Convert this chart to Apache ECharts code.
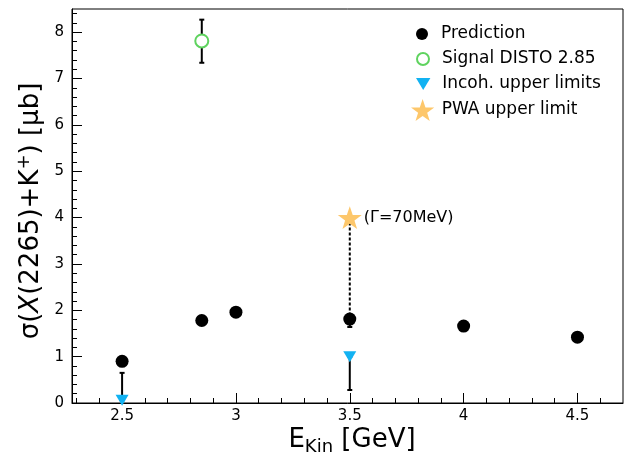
<!DOCTYPE html>
<html><head><meta charset="utf-8">
<script src="https://cdn.jsdelivr.net/npm/echarts@6/dist/echarts.min.js"></script>
<style>html,body{margin:0;padding:0;background:#fff}#c{width:625px;height:452px}</style>
</head><body><div id="c"></div>
<script>
// ---- data ----
const predX = [2.5, 2.85, 3.0, 3.5, 4.0, 4.5];
const predY = [0.9, 1.78, 1.96, 1.81, 1.66, 1.42];
const distoX = [2.85];
const distoY = [7.81];
const incohX = [2.5, 3.5];
const incohY = [0.06, 1.0];
const pwaX = [3.5];
const pwaY = [4.0];
const pwaLabel = '(Γ=70MeV)';
const pwaLinkY = [4.0, 1.62];
const errX = [2.5, 2.85, 3.5, 3.5];
const errLow = [0.06, 7.34, 0.28, 1.64];
const errHigh = [0.65, 8.27, 1.0, 1.81];
const xMajorTicks = [2.5, 3, 3.5, 4, 4.5];
const xMinorTicks = [2.3, 2.4, 2.6, 2.7, 2.8, 2.9, 3.1, 3.2, 3.3, 3.4, 3.6, 3.7, 3.8, 3.9, 4.1, 4.2, 4.3, 4.4, 4.6];
const yMajorTicks = [0, 1, 2, 3, 4, 5, 6, 7, 8];
const yMinorTicks = [0.2, 0.4, 0.6, 0.8, 1.2, 1.4, 1.6, 1.8, 2.2, 2.4, 2.6, 2.8, 3.2, 3.4, 3.6, 3.8,
  4.2, 4.4, 4.6, 4.8, 5.2, 5.4, 5.6, 5.8, 6.2, 6.4, 6.6, 6.8, 7.2, 7.4, 7.6, 7.8, 8.2, 8.4];
const legendNames = ['Prediction', 'Signal DISTO 2.85', 'Incoh. upper limits', 'PWA upper limit'];

const FONT = 'DejaVu Sans';
const STAR = 'path://M50,0 L61.8,35.1 L98.1,35.1 L68.8,56.7 L79.4,91 L50,70 L20.6,91 L31.2,56.7 L1.9,35.1 L38.2,35.1 Z';
const DOWN_TRI = 'path://M0,0 L12,0 L6,10 Z';
const zip = (xs, ys) => xs.map((x, i) => [x, ys[i]]);

const chart = echarts.init(document.getElementById('c'), null, {renderer: 'canvas'});

const xBase = {type: 'value', min: 2.28, max: 4.7, position: 'bottom', splitLine: {show: false}};
const yBase = {type: 'value', min: 0, max: 8.5, position: 'left', splitLine: {show: false}};

// one legend component per entry so each marker can have its own size
const legendRows = [
  {name: legendNames[0], left: 416, top: 24, h: 12},
  {name: legendNames[1], left: 416, top: 49, h: 12},
  {name: legendNames[2], left: 416, top: 74, h: 12, icon: DOWN_TRI},
  {name: legendNames[3], left: 411, top: 99, h: 22}
];
const legends = legendRows.map(r => ({
  data: [r.icon ? {name: r.name, icon: r.icon} : r.name],
  orient: 'vertical', left: r.left, top: r.top, padding: 0,
  itemWidth: 28, itemHeight: r.h, itemGap: 0,
  textStyle: {fontSize: 17, fontFamily: FONT, color: '#000', lineHeight: 20},
  selectedMode: false
}));

chart.setOption({
  animation: false,
  backgroundColor: '#fff',
  grid: {left: 72, top: 9, right: 2, bottom: 49, show: true, borderColor: '#000', borderWidth: 1},
  xAxis: [
    Object.assign({}, xBase, {
      axisLine: {show: true, lineStyle: {color: '#000', width: 1}},
      axisTick: {show: true, inside: true, length: 10, customValues: xMajorTicks, lineStyle: {color: '#000', width: 1}},
      axisLabel: {show: true, customValues: xMajorTicks, fontSize: 15, fontFamily: FONT, color: '#000', margin: 6,
        formatter: v => String(v)}
    }),
    Object.assign({}, xBase, {
      axisLine: {show: false},
      axisTick: {show: true, inside: true, length: 5, customValues: xMinorTicks, lineStyle: {color: '#000', width: 1}},
      axisLabel: {show: false}
    })
  ],
  yAxis: [
    Object.assign({}, yBase, {
      axisLine: {show: true, lineStyle: {color: '#000', width: 1}},
      axisTick: {show: true, inside: true, length: 10, customValues: yMajorTicks, lineStyle: {color: '#000', width: 1}},
      axisLabel: {show: true, customValues: yMajorTicks, fontSize: 15, fontFamily: FONT, color: '#000', margin: 8}
    }),
    Object.assign({}, yBase, {
      axisLine: {show: false},
      axisTick: {show: true, inside: true, length: 5, customValues: yMinorTicks, lineStyle: {color: '#000', width: 1}},
      axisLabel: {show: false}
    })
  ],
  legend: legends,
  graphic: [
    {type: 'text', x: 31, y: 211, rotation: Math.PI / 2,
      style: {text: '{a|σ(}{i|X}{a|(2265)+K}{s|+}{a|) [μb]}', align: 'center', verticalAlign: 'middle', fill: '#000',
        rich: {
          a: {fontSize: 26, fontFamily: FONT, lineHeight: 32, fill: '#000'},
          i: {fontSize: 26, fontFamily: FONT, fontStyle: 'italic', lineHeight: 32, fill: '#000'},
          s: {fontSize: 18, fontFamily: FONT, lineHeight: 12, verticalAlign: 'top', fill: '#000'}
        }}},
    {type: 'text', x: 352, y: 440,
      style: {text: '{a|E}{k|Kin}{a| [GeV]}', align: 'center', verticalAlign: 'middle', fill: '#000',
        rich: {
          a: {fontSize: 26, fontFamily: FONT, lineHeight: 32, fill: '#000'},
          k: {fontSize: 18, fontFamily: FONT, lineHeight: 18, verticalAlign: 'bottom', fill: '#000'}
        }}}
  ],
  series: [
    {
      type: 'custom', name: 'errbars', z: 2, silent: true,
      data: errX.map((x, i) => [x, errLow[i], errHigh[i]]),
      encode: {x: 0, y: [1, 2]},
      renderItem: function (params, api) {
        const p1 = api.coord([api.value(0), api.value(1)]);
        const p2 = api.coord([api.value(0), api.value(2)]);
        const cw = 2.5;
        const st = {stroke: '#000', lineWidth: 2};
        return {type: 'group', children: [
          {type: 'line', shape: {x1: p1[0], y1: p1[1], x2: p2[0], y2: p2[1]}, style: st},
          {type: 'line', shape: {x1: p1[0] - cw, y1: p1[1], x2: p1[0] + cw, y2: p1[1]}, style: st},
          {type: 'line', shape: {x1: p2[0] - cw, y1: p2[1], x2: p2[0] + cw, y2: p2[1]}, style: st}
        ]};
      }
    },
    {
      type: 'line', name: 'link', z: 2, silent: true, symbol: 'none',
      data: pwaLinkY.map(y => [pwaX[0], y]),
      lineStyle: {color: '#000', width: 2, type: [3, 2]}
    },
    {
      type: 'scatter', name: 'Prediction', z: 5, symbol: 'circle', symbolSize: 13,
      data: zip(predX, predY), itemStyle: {color: '#000', opacity: 1}
    },
    {
      type: 'scatter', name: 'Signal DISTO 2.85', z: 5, symbol: 'emptyCircle', symbolSize: 13,
      data: zip(distoX, distoY), itemStyle: {color: '#5fd35f', borderColor: '#5fd35f', borderWidth: 1, opacity: 1}
    },
    {
      type: 'scatter', name: 'Incoh. upper limits', z: 5, symbol: DOWN_TRI, symbolSize: [13, 11],
      data: zip(incohX, incohY), itemStyle: {color: '#12b2f2', opacity: 1}
    },
    {
      type: 'scatter', name: 'PWA upper limit', z: 5, symbol: STAR, symbolKeepAspect: true, symbolSize: 24,
      data: zip(pwaX, pwaY), itemStyle: {color: '#fdc76b', opacity: 1},
      label: {show: true, position: 'right', distance: 2, formatter: pwaLabel, fontSize: 16, fontFamily: FONT, color: '#000'}
    }
  ]
});
</script>
</body></html>
